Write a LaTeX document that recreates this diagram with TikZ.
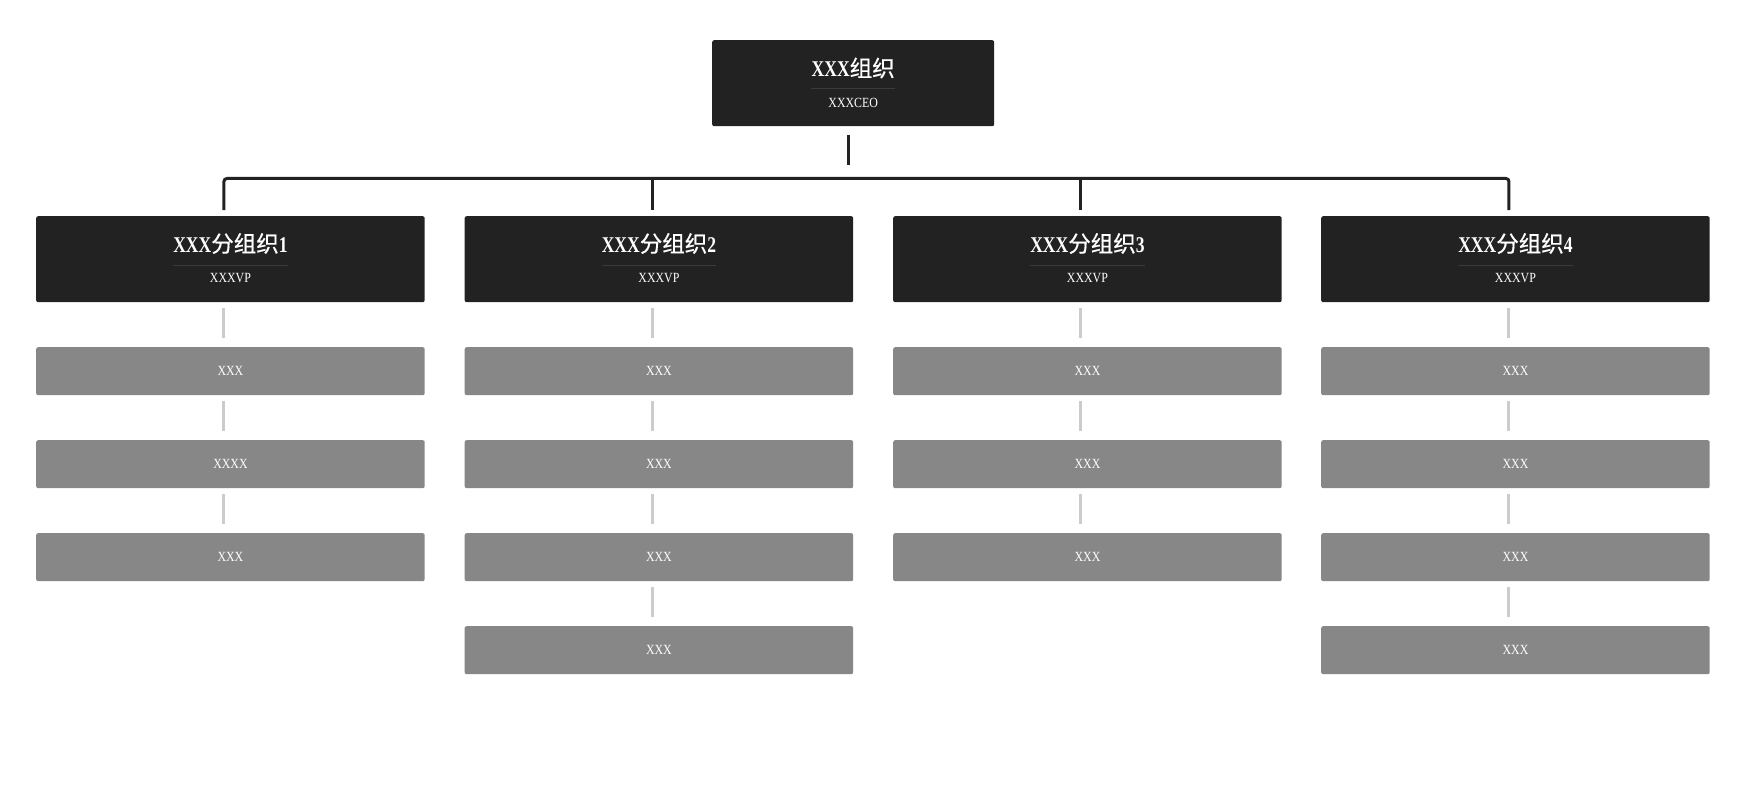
\documentclass[tikz,border=0pt]{standalone}
\usepackage{fontspec}
\newfontfamily\cjk[FakeBold=0.6]{Noto Sans CJK SC}
\newfontfamily\ttl[FakeStretch=0.78]{Liberation Serif Bold}
\newfontfamily\smf[FakeStretch=0.85]{Liberation Serif}
\definecolor{dark}{HTML}{222222}
\definecolor{midgray}{HTML}{878787}
\definecolor{lightline}{HTML}{CCCCCC}
\definecolor{sepline}{HTML}{3A3A3A}
\begin{document}
\begin{tikzpicture}[x=1pt,y=-1pt,
  darkbox/.style={fill=dark,rounded corners=2pt,minimum width=388.5pt,minimum height=86pt,inner sep=0pt,anchor=north west},
  topbox/.style={darkbox,minimum width=282pt},
  graybox/.style={fill=midgray,rounded corners=2pt,minimum width=388.5pt,minimum height=48pt,inner sep=0pt,anchor=north west,text=white,font=\smf\fontsize{14}{16}\selectfont},
  titletext/.style={text=white,inner sep=0pt,font=\fontsize{22.5}{24}\selectfont},
  subtext/.style={text=white,inner sep=0pt,font=\smf\fontsize{14}{16}\selectfont},
  sep/.style={draw=sepline,line width=1pt},
  dk/.style={draw=dark,line width=3pt},
  lt/.style={draw=lightline,line width=3pt}]
\useasboundingbox (0,0) rectangle (1749,789);
\fill[white] (0,0) rectangle (1749,789);
% top box
\node[topbox] (top) at (712,40) {};
\node[titletext] (tt) at ([yshift=-28pt]top.north) {{\ttl XXX}{\cjk 组织}};
\coordinate (tsep) at ([yshift=-49pt]top.north);
\draw[sep] (tt.west |- tsep) -- (tt.east |- tsep);
\node[subtext] (ts) at ([yshift=-63pt]top.north) {XXXCEO};
% sub boxes
\foreach \i/\xx in {1/36,2/464.5,3/893,4/1321}{
  \node[darkbox] (s\i) at (\xx,216) {};
  \node[titletext] (st\i) at ([yshift=-27.5pt]s\i.north) {{\ttl XXX}{\cjk 分组织}{\ttl \i}};
  \coordinate (sep\i) at ([yshift=-49pt]s\i.north);
  \draw[sep] (st\i.west |- sep\i) -- (st\i.east |- sep\i);
  \node[subtext] (ss\i) at ([yshift=-62pt]s\i.north) {XXXVP};
}
% gray boxes
\node[graybox] (g11) at (36,347) {XXX};
\node[graybox] (g12) at (36,440) {XXXX};
\node[graybox] (g13) at (36,533) {XXX};
\node[graybox] (g21) at (464.5,347) {XXX};
\node[graybox] (g22) at (464.5,440) {XXX};
\node[graybox] (g23) at (464.5,533) {XXX};
\node[graybox] (g24) at (464.5,626) {XXX};
\node[graybox] (g31) at (893,347) {XXX};
\node[graybox] (g32) at (893,440) {XXX};
\node[graybox] (g33) at (893,533) {XXX};
\node[graybox] (g41) at (1321,347) {XXX};
\node[graybox] (g42) at (1321,440) {XXX};
\node[graybox] (g43) at (1321,533) {XXX};
\node[graybox] (g44) at (1321,626) {XXX};
% dark connectors
\draw[dk] ([xshift=-4.5pt,yshift=-9pt]top.south) -- ([xshift=-4.5pt,yshift=-39pt]top.south);
\draw[dk,rounded corners=3pt] ([xshift=-6.5pt,yshift=6pt]s1.north) -- ([xshift=-6.5pt,yshift=37.5pt]s1.north) -- ([xshift=-6.5pt,yshift=37.5pt]s4.north) -- ([xshift=-6.5pt,yshift=6pt]s4.north);
\draw[dk] ([xshift=-6.5pt,yshift=37.5pt]s2.north) -- ([xshift=-6.5pt,yshift=6pt]s2.north);
\draw[dk] ([xshift=-6.5pt,yshift=37.5pt]s3.north) -- ([xshift=-6.5pt,yshift=6pt]s3.north);
% light connectors
\foreach \a/\b in {s1/g11,g11/g12,g12/g13,s2/g21,g21/g22,g22/g23,g23/g24,s3/g31,g31/g32,g32/g33,s4/g41,g41/g42,g42/g43,g43/g44}{
  \draw[lt] ([xshift=-6.5pt,yshift=-6pt]\a.south) -- ([xshift=-6.5pt,yshift=9pt]\b.north);
}
\end{tikzpicture}
\end{document}
